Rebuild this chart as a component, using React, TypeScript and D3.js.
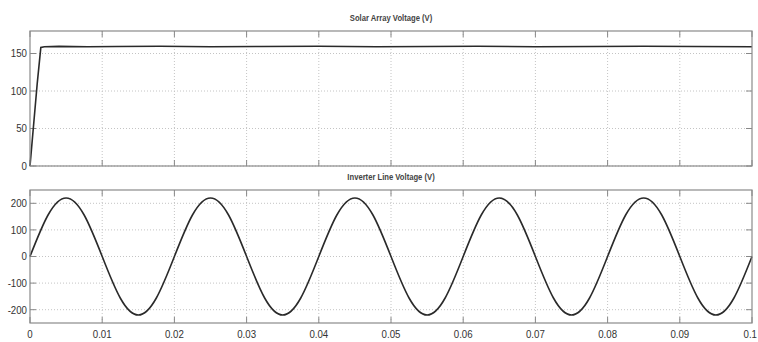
import { useMemo } from "react";
import * as d3 from "d3";

const WIDTH = 758;
const HEIGHT = 342;
const X_LEFT = 30;
const X_RIGHT = 752;

// Solar array voltage (V)
const solarTime = [0, 0.0005, 0.001, 0.0015, 0.002, 0.004, 0.008, 0.012, 0.018, 0.025, 0.032, 0.04, 0.048, 0.055, 0.062, 0.07, 0.078, 0.085, 0.092, 0.1];
const solarVolts = [0, 55, 110, 158, 159, 159.5, 159, 159.3, 159.6, 159, 159.4, 159.6, 159.1, 159.4, 159.6, 159.1, 159.4, 159.6, 159.3, 159.1];

// Inverter line voltage (V), read every 1/8 cycle from the bottom panel
const lineTime = d3.range(0, 41).map((i) => +(i * 0.0025).toFixed(4));
const lineVolts = [
  0, 156, 220, 156, 0, -156, -220, -156,
  0, 156, 220, 156, 0, -156, -220, -156,
  0, 156, 220, 156, 0, -156, -220, -156,
  0, 156, 220, 156, 0, -156, -220, -156,
  0, 156, 220, 156, 0, -156, -220, -156,
  0,
];

const xTicks = [0, 0.01, 0.02, 0.03, 0.04, 0.05, 0.06, 0.07, 0.08, 0.09, 0.1];
const xTickLabels = ["0", "0.01", "0.02", "0.03", "0.04", "0.05", "0.06", "0.07", "0.08", "0.09", "0.1"];
const solarTicks = [0, 50, 100, 150];
const lineTicks = [-200, -100, 0, 100, 200];

const FONT = "'Liberation Sans Narrow', 'Arial Narrow', 'Liberation Sans', sans-serif";

type PanelProps = {
  title: string;
  top: number;
  bottom: number;
  domain: [number, number];
  ticks: number[];
  xs: number[];
  ys: number[];
  showXLabels: boolean;
  curve: d3.CurveFactory;
};

function Panel({ title, top, bottom, domain, ticks, xs, ys, showXLabels, curve }: PanelProps) {
  const xScale = d3.scaleLinear().domain([0, 0.1]).range([X_LEFT, X_RIGHT]);
  const yScale = d3.scaleLinear().domain(domain).range([bottom, top]);

  const path = useMemo(() => {
    const line = d3
      .line<number>()
      .x((_, i) => xScale(xs[i]))
      .y((d) => yScale(d))
      .curve(curve);
    return line(ys) ?? "";
  }, [xs, ys, top, bottom]);

  const cx = (X_LEFT + X_RIGHT) / 2;

  return (
    <g>
      <text
        transform={`translate(${cx},${top - 10}) scale(0.85,1)`}
        textAnchor="middle"
        fontSize={9}
        fontWeight="bold"
        fill="#444"
        fontFamily={FONT}
      >
        {title}
      </text>
      <rect x={X_LEFT} y={top} width={X_RIGHT - X_LEFT} height={bottom - top} fill="#fff" />
      {/* dotted grid */}
      {xTicks.slice(1, -1).map((t) => (
        <line key={"gx" + t} x1={xScale(t)} x2={xScale(t)} y1={top} y2={bottom} stroke="#c4c4c4" strokeDasharray="1,2" />
      ))}
      {ticks.map((t) => (
        <line key={"gy" + t} x1={X_LEFT} x2={X_RIGHT} y1={yScale(t)} y2={yScale(t)} stroke="#c4c4c4" strokeDasharray="1,2" />
      ))}
      {/* tick marks, inward */}
      {xTicks.map((t) => (
        <g key={"tx" + t}>
          <line x1={xScale(t)} x2={xScale(t)} y1={bottom} y2={bottom - 6} stroke="#888" />
          <line x1={xScale(t)} x2={xScale(t)} y1={top} y2={top + 6} stroke="#888" />
        </g>
      ))}
      {ticks.map((t) => (
        <g key={"ty" + t}>
          <line x1={X_LEFT} x2={X_LEFT + 6} y1={yScale(t)} y2={yScale(t)} stroke="#888" />
          <line x1={X_RIGHT} x2={X_RIGHT - 6} y1={yScale(t)} y2={yScale(t)} stroke="#888" />
          <text
            transform={`translate(${X_LEFT - 3},${yScale(t)}) scale(0.88,1)`}
            dy="0.35em"
            textAnchor="end"
            fontSize={11}
            fill="#333"
            fontFamily={FONT}
          >
            {t}
          </text>
        </g>
      ))}
      {showXLabels &&
        xTicks.map((t, i) => {
          const last = i === xTicks.length - 1;
          return (
            <text
              key={"lx" + t}
              transform={`translate(${last ? WIDTH - 1 : xScale(t)},${bottom + 15}) scale(0.88,1)`}
              textAnchor={last ? "end" : "middle"}
              fontSize={11}
              fill="#333"
              fontFamily={FONT}
            >
              {xTickLabels[i]}
            </text>
          );
        })}
      <path d={path} fill="none" stroke="#2a2a2a" strokeWidth={1.6} />
      <rect x={X_LEFT} y={top} width={X_RIGHT - X_LEFT} height={bottom - top} fill="none" stroke="#8a8a8a" strokeWidth={1.2} />
    </g>
  );
}

export default function App() {
  return (
    <div style={{ position: "absolute", left: 0, top: 0 }}>
      <svg width={WIDTH} height={HEIGHT} style={{ display: "block", background: "#fff" }}>
        <Panel
          title="Solar Array Voltage (V)"
          top={31}
          bottom={166}
          domain={[0, 180]}
          ticks={solarTicks}
          xs={solarTime}
          ys={solarVolts}
          showXLabels={false}
          curve={d3.curveLinear}
        />
        <Panel
          title="Inverter Line Voltage (V)"
          top={190}
          bottom={323}
          domain={[-250, 250]}
          ticks={lineTicks}
          xs={lineTime}
          ys={lineVolts}
          showXLabels={true}
          curve={d3.curveNatural}
        />
      </svg>
    </div>
  );
}
